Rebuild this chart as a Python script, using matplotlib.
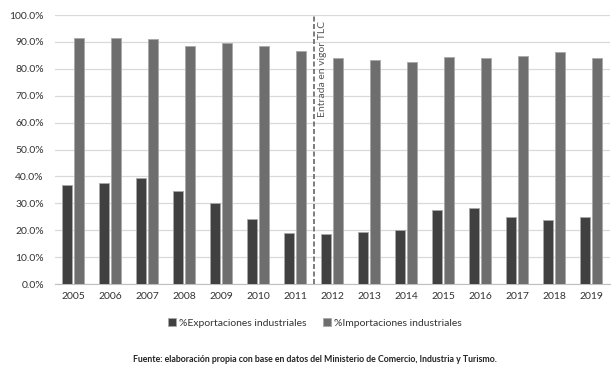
import matplotlib
matplotlib.use("Agg")
import matplotlib.pyplot as plt
import numpy as np

years = ["2005", "2006", "2007", "2008", "2009", "2010", "2011", "2012",
         "2013", "2014", "2015", "2016", "2017", "2018", "2019"]
exportaciones = [36.8, 37.4, 39.3, 34.4, 30.2, 24.0, 19.1, 18.7,
                 19.5, 20.2, 27.5, 28.4, 24.9, 23.8, 24.8]
importaciones = [91.4, 91.3, 91.0, 88.6, 89.6, 88.5, 86.7, 84.0,
                 83.1, 82.4, 84.3, 84.0, 84.6, 86.1, 84.0]

plt.rcParams['font.family'] = ['Lato', 'DejaVu Sans']

fig = plt.figure(figsize=(6.11, 3.66), dpi=100)
ax = fig.add_axes([0.09, 0.224, 0.908, 0.735])

x = np.arange(len(years))
w = 0.27
ax.bar(x - 0.175, exportaciones, w, color='#404040', edgecolor='#a8a8a8',
       linewidth=0.6, label='%Exportaciones industriales', zorder=3)
ax.bar(x + 0.16, importaciones, w, color='#6e6e6e', edgecolor='#a8a8a8',
       linewidth=0.6, label='%Importaciones industriales', zorder=3)

ax.set_xlim(-0.5, len(years) - 0.5)
ax.set_ylim(0, 100)
ax.set_yticks(np.arange(0, 101, 10))
ax.set_yticklabels([f"{v:.1f}%" for v in np.arange(0, 101, 10)])
ax.set_xticks(x)
ax.set_xticklabels(years)
ax.tick_params(axis='both', length=0, labelsize=7.5, colors='#333333')
ax.tick_params(axis='x', pad=6)
ax.tick_params(axis='y', pad=8)
ax.yaxis.grid(True, color='#d9d9d9', linewidth=0.9, zorder=0)
for s in ['top', 'right', 'left']:
    ax.spines[s].set_visible(False)
ax.spines['bottom'].set_color('#bfbfbf')

ax.axvline(6.5, ymin=0, ymax=1, color='#666666', linestyle=(0, (3, 1.5)),
           linewidth=1.2, zorder=4)
ax.text(6.72, 98, 'Entrada en vigor TLC', rotation=90, ha='center', va='top',
        fontsize=7.5, color='#595959')

fig.legend(loc='center', bbox_to_anchor=(0.515, 1 - 323/366), ncol=2,
           frameon=False, fontsize=7.5, handlelength=0.8, handleheight=0.8,
           columnspacing=1.6, handletextpad=0.25, labelcolor='#333333')

fig.text(0.516, 1 - 359/366, 'Fuente: elaboración propia con base en datos del Ministerio de Comercio, Industria y Turismo.',
         ha='center', va='center', fontsize=6.35, fontweight='bold', color='#222222')

fig.savefig('out.png', dpi=100)
